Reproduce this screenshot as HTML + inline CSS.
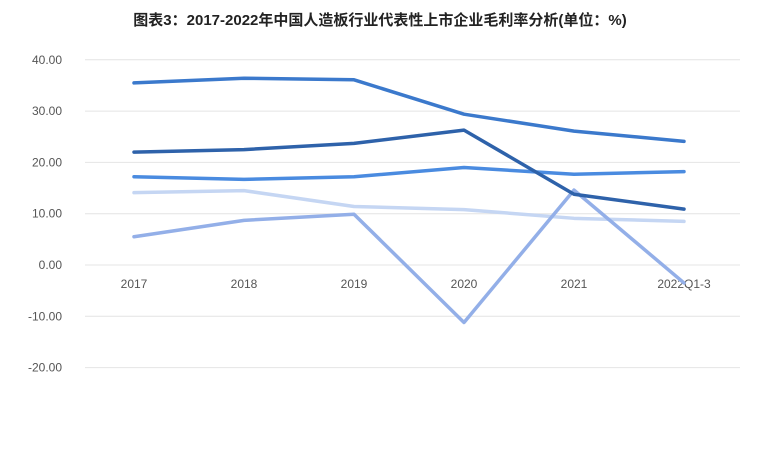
<!DOCTYPE html>
<html><head><meta charset="utf-8">
<style>
html,body{margin:0;padding:0;background:#fff;}
body{width:760px;height:465px;overflow:hidden;font-family:"Liberation Sans","Noto Sans CJK SC",sans-serif;}
</style></head>
<body>
<svg id="chart" width="760" height="465" xmlns="http://www.w3.org/2000/svg">
<text x="380" y="25" text-anchor="middle" font-size="15" font-weight="bold" fill="#222" font-family="Liberation Sans, Noto Sans CJK SC, sans-serif">图表3：2017-2022年中国人造板行业代表性上市企业毛利率分析(单位：%)</text>
<g id="grid"></g><g id="yticks"></g><g id="xlabels"></g><g id="lines"></g>
</svg>
<script>
const categories = ["2017","2018","2019","2020","2021","2022Q1-3"];
const yTicks = [40,30,20,10,0,-10,-20];
const s1 = [35.5,36.4,36.1,29.4,26.1,24.1];
const s2 = [22.0,22.5,23.7,26.3,13.8,10.9];
const s3 = [17.2,16.7,17.2,19.0,17.7,18.2];
const s4 = [14.1,14.5,11.4,10.8,9.1,8.5];
const s5 = [5.5,8.7,9.9,-11.2,14.6,-3.5];
const seriesList = [s4,s5,s3,s1,s2];
const colors = ["#c5d6f3","#93afe8","#4a8be0","#3b79cc","#2e62aa"];
const NS="http://www.w3.org/2000/svg";
function y(v){return 265 - v*5.13;}
function x(i){return 134 + i*110;}
function mk(tag,attrs,parent){const e=document.createElementNS(NS,tag);for(const k in attrs)e.setAttribute(k,attrs[k]);parent.appendChild(e);return e;}
const grid=document.getElementById('grid'),yt=document.getElementById('yticks'),xl=document.getElementById('xlabels'),ln=document.getElementById('lines');
yTicks.forEach(v=>{
  const g=mk('line',{x1:85,x2:740,y1:y(v),y2:y(v),stroke:'#e4e4e4','stroke-width':1},grid);
  
  
  const t=mk('text',{x:62,y:y(v)+4,'text-anchor':'end','font-size':12,fill:'#555'},yt);
  t.textContent=v.toFixed(2);
  
  
});
categories.forEach((c,i)=>{
  const t=mk('text',{x:x(i),y:288,'text-anchor':'middle','font-size':12,fill:'#555'},xl);
  t.textContent=c;
  
  
});
seriesList.forEach((s,k)=>{
  const p=mk('polyline',{points:s.map((v,i)=>x(i)+','+y(v)).join(' '),fill:'none',stroke:colors[k],'stroke-width':3.5,'stroke-linejoin':'round','stroke-linecap':'round'},ln);
  
  
});
</script>
</body></html>
